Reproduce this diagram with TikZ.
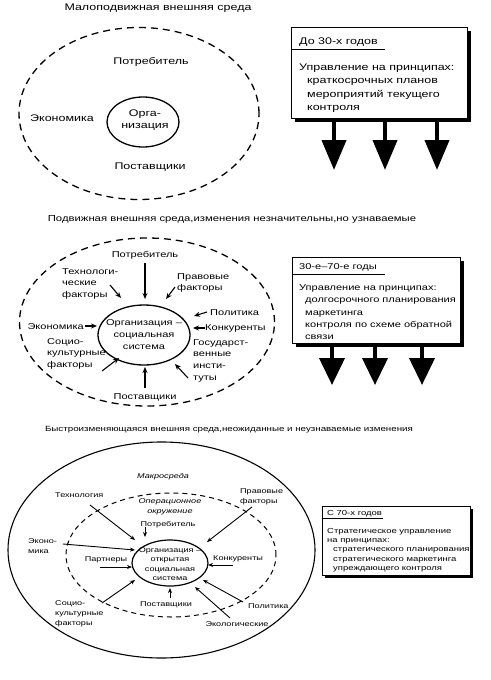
\documentclass[tikz,border=0pt]{standalone}
\usepackage{fontspec}
\setmainfont{Liberation Sans}[FakeStretch=1.3]
\usetikzlibrary{arrows.meta,shapes.geometric,backgrounds}
\newcommand\myfs[2]{\fontsize{#1}{#2}\selectfont}
\begin{document}
\begin{tikzpicture}[x=1pt,y=-1pt,
  t1/.style={font=\myfs{9.6}{12}, inner sep=0pt, align=center},
  t2/.style={font=\myfs{8.5}{11.8}, inner sep=0pt, align=left},
  t3/.style={font=\myfs{7}{10.3}, inner sep=0pt, align=left},
  envdash/.style={draw, ellipse, inner sep=0pt, dash pattern=on 7pt off 5pt, line width=1.3pt},
  envdashb/.style={draw, ellipse, inner sep=0pt, dash pattern=on 5pt off 4pt, line width=1pt},
  orgell/.style={draw, ellipse, inner sep=0pt, line width=1.3pt},
  sarr/.style={-{Stealth[length=6pt,width=5pt]}, line width=1.1pt},
  tarr/.style={-{Stealth[length=5pt,width=4pt]}, line width=0.9pt},
  bigarr/.style={line width=4pt, -{Triangle[length=30pt,width=24pt]}},
  panel/.style={draw, line width=0.8pt, fill=white, inner sep=0pt},
  shadowfill/.style={fill=black},
  uline/.style={line width=0.7pt}
]
\useasboundingbox (0,0) rectangle (490,680);

% ================= Section 1 =================
\node[t1] (title1) at (158,8) {Малоподвижная внешняя среда};
\node[envdash, minimum width=240pt, minimum height=172pt] (env1) at (139,113.5) {};
\node[orgell, minimum width=72pt, minimum height=50pt] (org1) at (143,122) {};
\node[t1] (org1t) at (145,120) {Орга-\\низация};
\node[t1] (cons1) at (151,62) {Потребитель};
\node[t1] (econ1) at (62,118) {Экономика};
\node[t1] (supp1) at (150,167) {Поставщики};

\node[panel, minimum width=176pt, minimum height=91pt] (box1) at (379,72.5) {};
\begin{scope}[on background layer]
  \fill[shadowfill] ([shift={(4,4)}]box1.north west) rectangle ([shift={(4,4)}]box1.south east);
\end{scope}
\node[t1, anchor=base west] (h1) at (299,44.5) {До 30-х годов};
\draw[uline] (box1.west |- 0,49) -- (385,49);
\node[font=\myfs{9.6}{13.3}, inner sep=0pt, align=left, anchor=base west] (b1) at (299,110.4)
  {Управление на принципах:\\\hspace*{8pt}краткосрочных планов\\\hspace*{8pt}мероприятий текущего\\\hspace*{8pt}контроля};
\coordinate (a11) at (334,170);
\coordinate (a12) at (385,170);
\coordinate (a13) at (437,170);
\draw[bigarr] (box1.south -| a11) -- (a11);
\draw[bigarr] (box1.south -| a12) -- (a12);
\draw[bigarr] (box1.south -| a13) -- (a13);

% ================= Section 2 =================
\node[font=\myfs{8.7}{11}, inner sep=0pt] (title2) at (232,219) {Подвижная внешняя среда,изменения незначительны,но узнаваемые};
\node[envdash, minimum width=255pt, minimum height=168pt] (env2) at (147,322) {};
\node[orgell, minimum width=92pt, minimum height=60pt] (org2) at (144,335) {};
\node[font=\myfs{8.5}{12}, inner sep=0pt, align=center] (org2t) at (144,335) {Организация –\\социальная\\система};

\node[t2] (cons2) at (145,255) {Потребитель};
\node[t2, anchor=north west] (tech2) at (62,268) {Технологи-\\ческие\\факторы};
\node[t2, anchor=north west] (law2) at (177,273) {Правовые\\факторы};
\node[t2, anchor=west] (pol2) at (210,313) {Политика};
\node[t2, anchor=west] (comp2) at (205,328) {Конкуренты};
\node[t2, anchor=east] (econ2) at (84,327) {Экономика};
\node[t2, anchor=north west] (gov2) at (193,339) {Государст-\\венные\\инсти-\\туты};
\node[t2, anchor=north west] (soc2) at (47,338) {Социо-\\культурные\\факторы};
\node[t2] (supp2) at (145,397) {Поставщики};

\coordinate (c2a) at (145,263); \coordinate (c2b) at (145,299);
\coordinate (t2a) at (110,285); \coordinate (t2b) at (121,298);
\coordinate (l2a) at (175,287); \coordinate (l2b) at (166,299);
\coordinate (p2a) at (207,312); \coordinate (p2b) at (194,316);
\coordinate (k2a) at (205,328); \coordinate (k2b) at (193,328);
\coordinate (e2a) at (85,326);  \coordinate (e2b) at (97,326);
\coordinate (g2a) at (188,378); \coordinate (g2b) at (175,364);
\coordinate (s2a) at (102,371); \coordinate (s2b) at (119,358);
\coordinate (v2a) at (145,388); \coordinate (v2b) at (145,367);
\draw[sarr] (c2a) -- (c2b);
\draw[sarr] (t2a) -- (t2b);
\draw[sarr] (l2a) -- (l2b);
\draw[sarr] (p2a) -- (p2b);
\draw[sarr] (k2a) -- (k2b);
\draw[sarr] (e2a) -- (e2b);
\draw[sarr] (g2a) -- (g2b);
\draw[sarr] (s2a) -- (s2b);
\draw[sarr] (v2a) -- (v2b);

\node[panel, minimum width=168pt, minimum height=86pt] (box2) at (376,300) {};
\begin{scope}[on background layer]
  \fill[shadowfill] ([shift={(4,4)}]box2.north west) rectangle ([shift={(4,4)}]box2.south east);
\end{scope}
\node[t2, anchor=base west] (h2) at (299,269.5) {30-е–70-е годы};
\draw[uline] (box2.west |- 0,274) -- (385,274);
\node[font=\myfs{8.5}{12.3}, inner sep=0pt, align=left, anchor=base west] (b2) at (299,339.7)
  {Управление на принципах:\\\hspace*{6pt}долгосрочного планирования\\\hspace*{6pt}маркетинга\\\hspace*{6pt}контроля по схеме обратной\\\hspace*{6pt}связи};
\coordinate (a21) at (332,385);
\coordinate (a22) at (375,385);
\coordinate (a23) at (422,385);
\draw[bigarr, -{Triangle[length=27pt,width=25pt]}] (box2.south -| a21) -- (a21);
\draw[bigarr, -{Triangle[length=27pt,width=25pt]}] (box2.south -| a22) -- (a22);
\draw[bigarr, -{Triangle[length=27pt,width=25pt]}] (box2.south -| a23) -- (a23);

% ================= Section 3 =================
\node[font=\myfs{7.5}{9}, inner sep=0pt] (title3) at (229,430) {Быстроизменяющаяся внешняя среда,неожиданные и неузнаваемые изменения};
\node[draw, ellipse, inner sep=0pt, line width=1.1pt, minimum width=307pt, minimum height=216pt] (macro) at (161.5,550) {};
\node[envdashb, minimum width=210pt, minimum height=124pt] (oper) at (171,555) {};
\node[orgell, line width=1.2pt, minimum width=76pt, minimum height=46pt] (org3) at (170,563) {};
\node[font=\myfs{7}{9.3}, inner sep=0pt, align=center] (org3t) at (170,564) {Организация –\\открытая\\социальная\\система};

\node[t3, font=\myfs{7}{10}\itshape] (macrot) at (163,477) {Макросреда};
\node[t3, font=\myfs{7}{10}\itshape, align=center] (opert) at (170,507) {Операционное\\окружение};
\node[t3] (cons3) at (168,525) {Потребитель};
\node[t3, anchor=west] (tech3) at (55,495) {Технология};
\node[t3, anchor=north west] (econ3) at (28,538) {Эконо-\\мика};
\node[t3] (part3) at (106,560) {Партнеры};
\node[t3, anchor=west] (comp3) at (213,559) {Конкуренты};
\node[t3, anchor=north west] (law3) at (240,488) {Правовые\\факторы};
\node[t3, anchor=west] (pol3) at (248,606) {Политика};
\node[t3] (eco3) at (237,624) {Экологические};
\node[t3] (supp3) at (166,605) {Поставщики};
\node[t3, anchor=north west] (soc3) at (55,600) {Социо-\\культурные\\факторы};

\coordinate (c3a) at (145,527); \coordinate (c3b) at (145,537);
\coordinate (t3a) at (90,505);  \coordinate (t3b) at (135,540);
\coordinate (e3a) at (63,544);  \coordinate (e3b) at (135,550);
\coordinate (p3a) at (100,567); \coordinate (p3b) at (132,567);
\coordinate (k3a) at (233,565); \coordinate (k3b) at (208,565);
\coordinate (l3a) at (252,507); \coordinate (l3b) at (207,542);
\coordinate (o3a) at (243,602); \coordinate (o3b) at (203,580);
\coordinate (g3a) at (230,618); \coordinate (g3b) at (195,587);
\coordinate (v3a) at (170,598); \coordinate (v3b) at (170,588);
\coordinate (s3a) at (102,603); \coordinate (s3b) at (135,580);
\draw[tarr] (c3a) -- (c3b);
\draw[tarr] (t3a) -- (t3b);
\draw[tarr] (e3a) -- (e3b);
\draw[tarr] (p3a) -- (p3b);
\draw[tarr] (k3a) -- (k3b);
\draw[tarr] (l3a) -- (l3b);
\draw[tarr] (o3a) -- (o3b);
\draw[tarr] (g3a) -- (g3b);
\draw[tarr] (v3a) -- (v3b);
\draw[tarr] (s3a) -- (s3b);

\node[panel, minimum width=148pt, minimum height=69pt] (box3) at (396,540.5) {};
\begin{scope}[on background layer]
  \fill[shadowfill] ([shift={(3,3)}]box3.north west) rectangle ([shift={(3,3)}]box3.south east);
\end{scope}
\node[font=\myfs{7.3}{9.3}, inner sep=0pt, anchor=base west] (h3) at (327,515.5) {С 70-х годов};
\draw[uline, line width=0.6pt] (box3.west |- 0,518.5) -- (383,518.5);
\node[font=\myfs{7.3}{9.3}, inner sep=0pt, align=left, anchor=base west] (b3) at (327,570.4)
  {Стратегическое управление\\на принципах:\\\hspace*{6pt}стратегического планирования\\\hspace*{6pt}стратегического маркетинга\\\hspace*{6pt}упреждающего контроля};
\end{tikzpicture}
\end{document}
